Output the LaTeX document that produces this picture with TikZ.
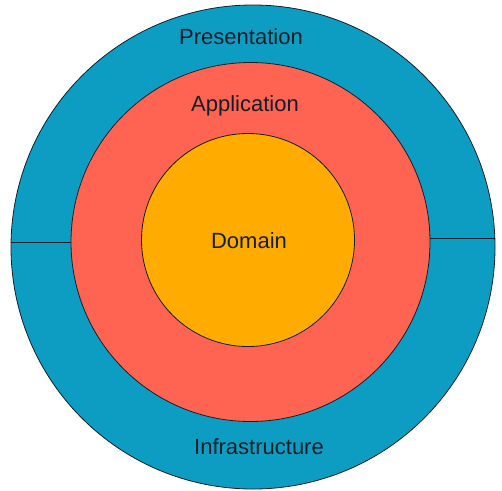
\documentclass[tikz,border=0pt]{standalone}
\usepackage{fontspec}
\setmainfont{Liberation Sans}
\definecolor{presblue}{RGB}{14,157,194}
\definecolor{appred}{RGB}{255,99,82}
\definecolor{domorange}{RGB}{255,171,0}
\definecolor{inkline}{RGB}{20,30,40}
\tikzset{
  ring/.style={circle,draw=inkline,line width=0.8pt,inner sep=0pt},
  layer/.style={font=\fontsize{22}{25}\selectfont,text=inkline}
}
\begin{document}
\begin{tikzpicture}[x=1pt,y=-1pt]
  \useasboundingbox (0,0) rectangle (502,490);
  \node[ring,fill=presblue,minimum size=484] (outer) at (253,247) {};
  \node[ring,fill=appred,minimum size=359] (app) at (250.5,242) {};
  \node[ring,fill=domorange,minimum size=213] (dom) at (248,240) {};

  \draw[inkline,line width=0.8pt] (app.west) -- (app.west -| outer.west);
  \draw[inkline,line width=0.8pt] ([yshift=4pt]app.east) -- ([yshift=4pt]app.east -| outer.east);

  \node[layer] (pres) at (241,37) {Presentation};
  \node[layer] (appl) at (245,106) {Application};
  \node[layer] (doml) at (249,241) {Domain};
  \node[layer] (infra) at (259,447) {Infrastructure};
\end{tikzpicture}
\end{document}
